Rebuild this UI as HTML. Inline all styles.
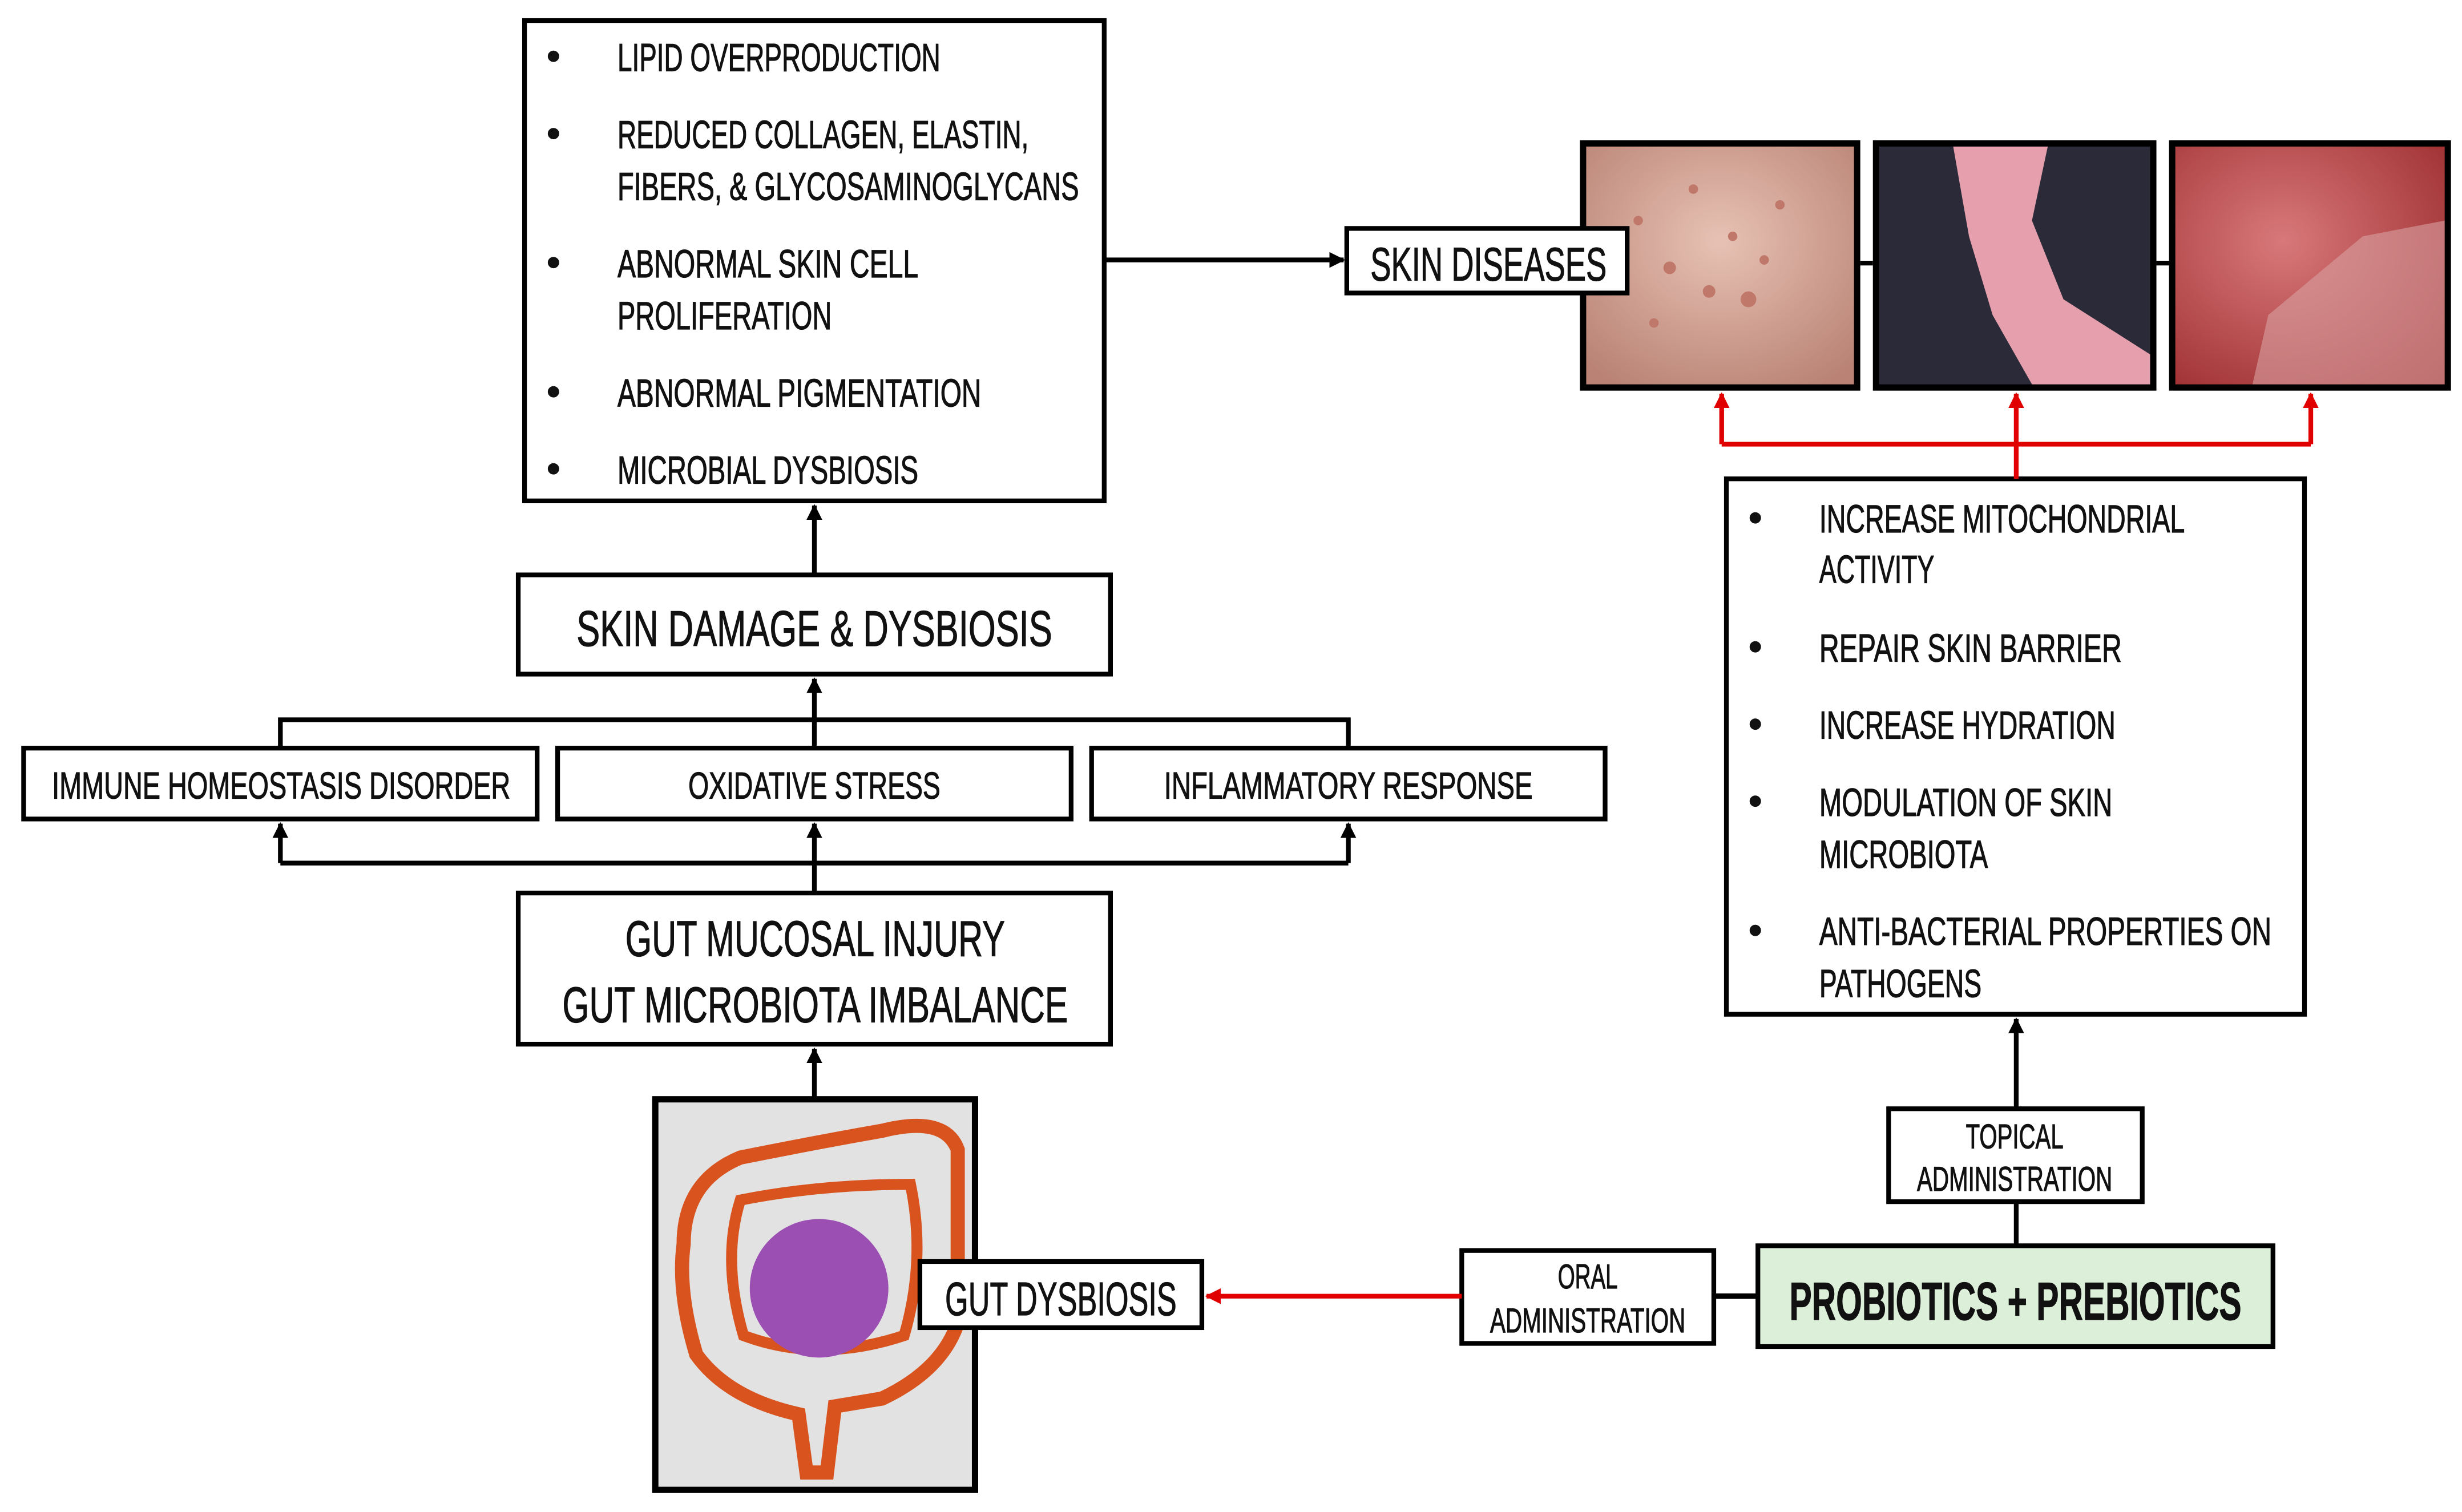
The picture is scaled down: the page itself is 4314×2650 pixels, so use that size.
<!DOCTYPE html>
<html><head><meta charset="utf-8"><style>
html,body{margin:0;padding:0;background:#fff;}
svg{display:block;}
text{font-family:"Liberation Sans Narrow","Liberation Sans",sans-serif;fill:#111;stroke:#111;stroke-width:0.45;}
</style></head><body>
<svg width="4314" height="2650" viewBox="0 0 1563 960" xmlns="http://www.w3.org/2000/svg">
<defs>
<marker id="ab" markerWidth="10" markerHeight="10" refX="9" refY="5" orient="auto" markerUnits="userSpaceOnUse"><path d="M0,0 L10,5 L0,10 z" fill="#000"/></marker>
<marker id="ar" markerWidth="10" markerHeight="10" refX="9" refY="5" orient="auto" markerUnits="userSpaceOnUse"><path d="M0,0 L10,5 L0,10 z" fill="#e00000"/></marker>
<radialGradient id="sk1" cx="0.5" cy="0.4" r="0.7"><stop offset="0" stop-color="#e7c2b4"/><stop offset="1" stop-color="#b98274"/></radialGradient>
<radialGradient id="sk3" cx="0.4" cy="0.4" r="0.8"><stop offset="0" stop-color="#d8787a"/><stop offset="1" stop-color="#9a2a2c"/></radialGradient>
</defs>
<!-- images -->
<rect x="1005" y="91" width="174" height="155" fill="url(#sk1)" stroke="#000" stroke-width="4"/>
<g fill="#c0786a"><circle cx="1040" cy="140" r="3"/><circle cx="1060" cy="170" r="4"/><circle cx="1085" cy="185" r="4"/><circle cx="1100" cy="150" r="3"/><circle cx="1110" cy="190" r="5"/><circle cx="1130" cy="130" r="3"/><circle cx="1050" cy="205" r="3"/><circle cx="1120" cy="165" r="3"/><circle cx="1075" cy="120" r="3"/></g>
<rect x="1191" y="91" width="176" height="155" fill="#2a2a38" stroke="#000" stroke-width="4"/>
<path d="M1240,93 L1300,93 L1290,140 L1310,190 L1365,225 L1365,244 L1290,244 L1265,200 L1250,150 Z" fill="#e6a0ad"/>
<rect x="1379" y="91" width="175" height="155" fill="url(#sk3)" stroke="#000" stroke-width="4"/>
<path d="M1440,200 L1500,150 L1552,140 L1552,244 L1430,244 Z" fill="#d8a0a0" opacity="0.6"/>
<!-- gut image -->
<rect x="416" y="698" width="203" height="248" fill="#e2e2e2" stroke="#000" stroke-width="4"/>
<path d="M470,735 Q520,725 560,718 Q600,708 608,730 L608,840 Q598,870 560,888 L530,893 L525,935 L512,935 L507,898 Q462,888 442,860 Q430,820 434,790 Q434,750 470,735 Z" fill="none" stroke="#d9531e" stroke-width="9"/>
<path d="M470,762 Q520,752 578,752 Q588,800 574,848 Q520,866 472,848 Q458,800 470,762 Z" fill="none" stroke="#d9531e" stroke-width="7"/>
<circle cx="520" cy="818" r="44" fill="#9b4fb3"/>
<g fill="none" stroke="#000" stroke-width="3">
<rect x="333" y="13" width="368" height="305" fill="#fff"/>
<line x1="701" y1="165" x2="853" y2="165" marker-end="url(#ab)"/>
<rect x="855" y="145" width="178" height="41" fill="#fff"/>
<line x1="517" y1="365" x2="517" y2="321" marker-end="url(#ab)"/>
<rect x="329" y="365" width="376" height="63" fill="#fff"/>
<polyline points="178,475 178,457 856,457 856,475"/>
<line x1="517" y1="475" x2="517" y2="431" marker-end="url(#ab)"/>
<rect x="15" y="475" width="326" height="45" fill="#fff"/>
<rect x="354" y="475" width="326" height="45" fill="#fff"/>
<rect x="693" y="475" width="326" height="45" fill="#fff"/>
<line x1="178" y1="548" x2="856" y2="548"/>
<line x1="178" y1="548" x2="178" y2="523" marker-end="url(#ab)"/>
<line x1="856" y1="548" x2="856" y2="523" marker-end="url(#ab)"/>
<line x1="517" y1="567" x2="517" y2="523" marker-end="url(#ab)"/>
<rect x="329" y="567" width="376" height="96" fill="#fff"/>
<line x1="517" y1="697" x2="517" y2="666" marker-end="url(#ab)"/>
<rect x="1096" y="304" width="367" height="340" fill="#fff"/>
<line x1="1280" y1="704" x2="1280" y2="647" marker-end="url(#ab)"/>
<rect x="1199" y="704" width="161" height="59" fill="#fff"/>
<line x1="1280" y1="763" x2="1280" y2="791"/>
<rect x="1116" y="791" width="327" height="64" fill="#dcefd9"/>
<rect x="928" y="794" width="160" height="59" fill="#fff"/>
<line x1="1088" y1="823" x2="1116" y2="823" stroke-width="3.5"/>
<rect x="584" y="801" width="179" height="42" fill="#fff"/>
<line x1="1181" y1="167" x2="1189" y2="167"/>
<line x1="1369" y1="167" x2="1377" y2="167"/>
</g>
<g stroke="#e00000" stroke-width="3" fill="none">
<line x1="1280" y1="304" x2="1280" y2="282"/>
<line x1="1093" y1="282" x2="1467" y2="282"/>
<line x1="1093" y1="282" x2="1093" y2="250" marker-end="url(#ar)"/>
<line x1="1280" y1="282" x2="1280" y2="250" marker-end="url(#ar)"/>
<line x1="1467" y1="282" x2="1467" y2="250" marker-end="url(#ar)"/>
<line x1="928" y1="823" x2="766" y2="823" marker-end="url(#ar)"/>
</g>
<g font-size="25">
<text x="347" y="44">•</text><text x="392" y="45" textLength="205" lengthAdjust="spacingAndGlyphs">LIPID OVERPRODUCTION</text>
<text x="347" y="93">•</text><text x="392" y="94" textLength="261" lengthAdjust="spacingAndGlyphs">REDUCED COLLAGEN, ELASTIN,</text>
<text x="392" y="127" textLength="293" lengthAdjust="spacingAndGlyphs">FIBERS, &amp; GLYCOSAMINOGLYCANS</text>
<text x="347" y="175">•</text><text x="392" y="176" textLength="191" lengthAdjust="spacingAndGlyphs">ABNORMAL SKIN CELL</text>
<text x="392" y="209" textLength="136" lengthAdjust="spacingAndGlyphs">PROLIFERATION</text>
<text x="347" y="257">•</text><text x="392" y="258" textLength="231" lengthAdjust="spacingAndGlyphs">ABNORMAL PIGMENTATION</text>
<text x="347" y="306">•</text><text x="392" y="307" textLength="191" lengthAdjust="spacingAndGlyphs">MICROBIAL DYSBIOSIS</text>
<text x="1110" y="337">•</text><text x="1155" y="338" textLength="232" lengthAdjust="spacingAndGlyphs">INCREASE MITOCHONDRIAL</text>
<text x="1155" y="370" textLength="73" lengthAdjust="spacingAndGlyphs">ACTIVITY</text>
<text x="1110" y="419">•</text><text x="1155" y="420" textLength="192" lengthAdjust="spacingAndGlyphs">REPAIR SKIN BARRIER</text>
<text x="1110" y="468">•</text><text x="1155" y="469" textLength="188" lengthAdjust="spacingAndGlyphs">INCREASE HYDRATION</text>
<text x="1110" y="517">•</text><text x="1155" y="518" textLength="186" lengthAdjust="spacingAndGlyphs">MODULATION OF SKIN</text>
<text x="1155" y="551" textLength="107" lengthAdjust="spacingAndGlyphs">MICROBIOTA</text>
<text x="1110" y="599">•</text><text x="1155" y="600" textLength="287" lengthAdjust="spacingAndGlyphs">ANTI-BACTERIAL PROPERTIES ON</text>
<text x="1155" y="633" textLength="103" lengthAdjust="spacingAndGlyphs">PATHOGENS</text>
</g>
<text x="870" y="178" font-size="30" textLength="150" lengthAdjust="spacingAndGlyphs">SKIN DISEASES</text>
<text x="366" y="410" font-size="32" textLength="302" lengthAdjust="spacingAndGlyphs">SKIN DAMAGE &amp; DYSBIOSIS</text>
<g font-size="24">
<text x="33" y="507" textLength="291" lengthAdjust="spacingAndGlyphs">IMMUNE HOMEOSTASIS DISORDER</text>
<text x="437" y="507" textLength="160" lengthAdjust="spacingAndGlyphs">OXIDATIVE STRESS</text>
<text x="739" y="507" textLength="234" lengthAdjust="spacingAndGlyphs">INFLAMMATORY RESPONSE</text>
</g>
<text x="397" y="607" font-size="32" textLength="241" lengthAdjust="spacingAndGlyphs">GUT MUCOSAL INJURY</text>
<text x="357" y="649" font-size="32" textLength="321" lengthAdjust="spacingAndGlyphs">GUT MICROBIOTA IMBALANCE</text>
<text x="600" y="835" font-size="30" textLength="147" lengthAdjust="spacingAndGlyphs">GUT DYSBIOSIS</text>
<g font-size="22" text-anchor="middle">
<text x="1279" y="729" textLength="62" lengthAdjust="spacingAndGlyphs">TOPICAL</text>
<text x="1279" y="756" textLength="124" lengthAdjust="spacingAndGlyphs">ADMINISTRATION</text>
<text x="1008" y="818" textLength="38" lengthAdjust="spacingAndGlyphs">ORAL</text>
<text x="1008" y="846" textLength="124" lengthAdjust="spacingAndGlyphs">ADMINISTRATION</text>
</g>
<text x="1136" y="838" font-size="34" font-weight="bold" textLength="287" lengthAdjust="spacingAndGlyphs">PROBIOTICS + PREBIOTICS</text>
</svg>
</body></html>
